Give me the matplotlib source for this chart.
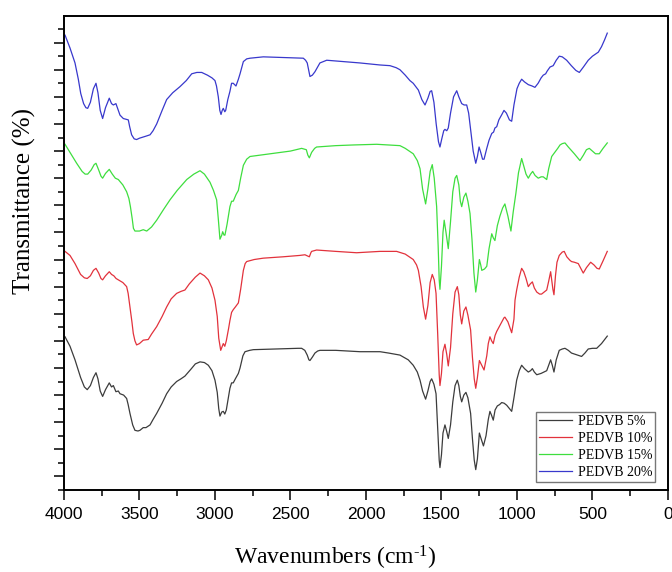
import numpy as np
import matplotlib
matplotlib.use("Agg")
import matplotlib.pyplot as plt
from matplotlib.ticker import MultipleLocator, FixedLocator, NullFormatter

plt.rcParams['mathtext.fontset'] = 'custom'
plt.rcParams['mathtext.rm'] = 'Liberation Serif'
plt.rcParams['mathtext.it'] = 'Liberation Serif:italic'

##################### spectra ##################################################
wn_5 = [3993, 3960, 3927, 3890, 3865, 3846, 3825, 3805, 3788, 3775, 3760, 3744, 3725, 3700, 3685, 3673,
        3656, 3640, 3629, 3605, 3585, 3575, 3563, 3545, 3530, 3510, 3497, 3475, 3457, 3430, 3410, 3386,
        3350, 3320, 3290, 3254, 3225, 3199, 3160, 3130, 3099, 3070, 3044, 3020, 3000, 2985, 2975, 2967,
        2955, 2945, 2935, 2925, 2910, 2901, 2890, 2879, 2865, 2845, 2834, 2815, 2801, 2770, 2746, 2600,
        2450, 2426, 2405, 2389, 2378, 2371, 2355, 2338, 2320, 2305, 2200, 2040, 1907, 1850, 1775, 1720,
        1687, 1660, 1642, 1625, 1605, 1590, 1575, 1565, 1550, 1536, 1525, 1515, 1510, 1500, 1490, 1477,
        1465, 1455, 1440, 1425, 1410, 1395, 1385, 1375, 1366, 1352, 1338, 1325, 1307, 1295, 1283, 1273,
        1262, 1249, 1238, 1222, 1205, 1190, 1179, 1168, 1157, 1145, 1130, 1115, 1101, 1085, 1068, 1050,
        1035, 1020, 1002, 985, 969, 950, 925, 910, 898, 885, 869, 840, 803, 790, 777, 766,
        755, 740, 720, 700, 682, 660, 639, 600, 572, 550, 528, 500, 472, 440, 402]
t_5 = [11.3, 10.6, 9.6, 8.3, 7.6, 7.4, 7.7, 8.3, 8.65, 8.2, 7.3, 6.9, 7.4, 7.9, 7.6, 7.7,
       7.25, 7.3, 7.1, 7.0, 6.75, 6.3, 5.65, 4.8, 4.4, 4.35, 4.4, 4.6, 4.6, 4.8, 5.2, 5.65,
       6.4, 7.1, 7.6, 8.0, 8.2, 8.4, 8.9, 9.3, 9.45, 9.4, 9.2, 8.8, 8.1, 7.2, 6.0, 5.45,
       5.75, 5.8, 5.6, 5.9, 6.9, 7.5, 7.9, 7.9, 8.2, 8.6, 9.0, 9.9, 10.2, 10.3, 10.35, 10.4,
       10.45, 10.45, 10.3, 9.95, 9.6, 9.55, 9.8, 10.1, 10.25, 10.3, 10.3, 10.2, 10.2, 10.1, 9.95, 9.6,
       9.2, 8.7, 8.1, 7.3, 6.7, 7.3, 8.0, 8.2, 7.8, 7.1, 4.5, 2.2, 1.65, 2.6, 4.2, 4.8,
       4.3, 3.8, 4.8, 6.5, 7.7, 8.1, 7.7, 6.9, 6.5, 7.0, 7.2, 6.8, 5.65, 3.8, 2.2, 1.5,
       2.3, 4.2, 3.8, 3.25, 4.0, 5.2, 5.8, 5.5, 5.15, 5.9, 6.2, 6.3, 6.45, 6.4, 6.25, 6.0,
       5.8, 6.8, 8.1, 8.8, 9.2, 8.95, 8.7, 8.8, 8.95, 8.7, 8.5, 8.6, 8.8, 9.2, 9.6, 9.2,
       8.7, 9.6, 10.3, 10.4, 10.45, 10.3, 10.1, 9.95, 9.85, 10.1, 10.4, 10.45, 10.45, 10.8, 11.35]

wn_10 = [3993, 3960, 3927, 3890, 3865, 3846, 3825, 3805, 3788, 3770, 3755, 3744, 3725, 3700, 3685, 3670,
         3655, 3640, 3610, 3585, 3575, 3563, 3550, 3541, 3530, 3519, 3500, 3475, 3442, 3420, 3386, 3350,
         3320, 3290, 3254, 3225, 3199, 3170, 3130, 3099, 3070, 3044, 3020, 3000, 2985, 2975, 2962, 2952,
         2945, 2935, 2925, 2910, 2901, 2890, 2879, 2865, 2845, 2830, 2812, 2800, 2790, 2740, 2680, 2550,
         2440, 2404, 2385, 2375, 2365, 2360, 2327, 2200, 2062, 1907, 1797, 1740, 1687, 1665, 1653, 1635,
         1620, 1605, 1590, 1575, 1561, 1548, 1536, 1525, 1515, 1510, 1500, 1490, 1477, 1465, 1455, 1440,
         1425, 1410, 1395, 1385, 1375, 1366, 1352, 1338, 1325, 1307, 1295, 1283, 1273, 1262, 1249, 1238,
         1218, 1200, 1190, 1179, 1168, 1157, 1145, 1134, 1110, 1086, 1080, 1060, 1035, 1020, 1013, 1002,
         985, 969, 955, 940, 925, 912, 898, 885, 869, 850, 837, 820, 803, 790, 777, 770,
         762, 755, 745, 735, 720, 700, 687, 670, 650, 639, 620, 594, 575, 561, 540, 512,
         490, 470, 455, 430, 402]
t_10 = [17.6, 17.3, 16.7, 15.9, 15.65, 15.6, 15.8, 16.2, 16.35, 16.0, 15.6, 15.5, 15.8, 16.1, 15.9, 15.8,
        15.6, 15.5, 15.3, 15.0, 14.5, 13.5, 12.4, 11.55, 11.0, 10.7, 10.8, 11.05, 11.1, 11.5, 12.05, 12.8,
        13.5, 14.1, 14.5, 14.65, 14.75, 15.2, 15.7, 16.0, 15.8, 15.5, 14.9, 14.0, 12.8, 11.2, 10.3, 10.6,
        10.8, 10.6, 11.0, 11.9, 12.5, 13.1, 13.3, 13.5, 13.8, 14.8, 16.2, 16.7, 16.85, 17.0, 17.1, 17.2,
        17.3, 17.35, 17.25, 17.2, 17.5, 17.6, 17.7, 17.6, 17.5, 17.6, 17.6, 17.4, 17.0, 16.6, 16.2, 15.0,
        13.5, 12.6, 13.6, 15.3, 15.9, 15.5, 14.5, 11.5, 8.5, 7.7, 8.6, 10.2, 10.75, 10.0, 9.15, 10.5,
        13.0, 14.6, 15.0, 14.4, 12.9, 12.25, 13.2, 13.5, 12.9, 11.8, 9.8, 8.2, 7.5, 8.3, 9.55, 9.3,
        8.85, 9.9, 10.8, 11.3, 11.0, 10.8, 11.4, 11.7, 12.2, 12.7, 12.75, 12.4, 11.6, 12.6, 14.0, 14.75,
        15.7, 16.35, 16.1, 15.6, 15.0, 15.2, 15.35, 14.9, 14.6, 14.45, 14.45, 14.6, 14.75, 15.4, 16.1, 15.5,
        14.8, 14.4, 15.8, 16.8, 17.3, 17.55, 17.6, 17.2, 16.95, 16.85, 16.8, 16.7, 16.3, 16.0, 16.4, 16.8,
        16.6, 16.35, 16.3, 16.9, 17.6]

wn_15 = [3993, 3960, 3916, 3880, 3860, 3843, 3820, 3800, 3788, 3770, 3755, 3744, 3725, 3700, 3680, 3660,
         3640, 3610, 3585, 3570, 3560, 3548, 3540, 3530, 3500, 3475, 3452, 3420, 3386, 3340, 3298, 3250,
         3187, 3140, 3099, 3070, 3033, 3010, 2989, 2978, 2967, 2955, 2949, 2940, 2934, 2920, 2901, 2890,
         2879, 2860, 2845, 2830, 2812, 2790, 2768, 2700, 2636, 2500, 2426, 2395, 2385, 2375, 2360, 2340,
         2327, 2200, 2084, 1929, 1850, 1775, 1740, 1687, 1660, 1642, 1625, 1605, 1590, 1575, 1561, 1548,
         1532, 1522, 1515, 1510, 1500, 1490, 1482, 1470, 1455, 1440, 1425, 1410, 1399, 1385, 1375, 1366,
         1352, 1338, 1325, 1311, 1298, 1285, 1273, 1262, 1249, 1240, 1233, 1215, 1200, 1185, 1167, 1157,
         1146, 1130, 1113, 1095, 1080, 1060, 1040, 1025, 1007, 990, 969, 955, 940, 925, 910, 896,
         880, 859, 840, 826, 803, 790, 770, 750, 730, 715, 700, 682, 660, 620, 583, 560,
         540, 521, 500, 480, 455, 430, 402]
t_15 = [25.5, 24.9, 24.1, 23.5, 23.3, 23.3, 23.6, 24.0, 24.1, 23.6, 23.15, 23.0, 23.35, 23.65, 23.3, 23.0,
        22.9, 22.5, 22.0, 21.5, 20.9, 20.0, 19.3, 19.1, 19.1, 19.2, 19.1, 19.4, 19.9, 20.7, 21.4, 22.1,
        22.9, 23.3, 23.55, 23.3, 22.7, 22.1, 21.4, 20.0, 18.5, 18.8, 19.05, 18.8, 18.8, 19.6, 20.9, 21.3,
        21.3, 21.8, 22.1, 23.0, 23.95, 24.4, 24.6, 24.7, 24.8, 25.0, 25.2, 25.1, 24.7, 24.5, 24.9, 25.2,
        25.3, 25.4, 25.45, 25.5, 25.45, 25.4, 25.2, 24.8, 24.3, 23.7, 22.2, 21.1, 22.2, 23.5, 24.0, 23.0,
        20.9, 18.0, 15.5, 14.8, 16.5, 19.0, 19.9, 19.0, 17.8, 19.8, 22.0, 23.0, 23.2, 22.5, 21.3, 20.9,
        21.6, 21.9, 21.3, 20.4, 18.5, 16.0, 14.6, 15.5, 17.0, 16.6, 16.2, 16.3, 16.5, 17.8, 18.9, 18.6,
        18.4, 19.5, 20.2, 20.8, 21.1, 20.2, 19.1, 20.5, 21.9, 23.4, 24.45, 23.9, 23.3, 23.0, 23.3, 23.5,
        23.2, 23.0, 23.1, 23.1, 22.9, 23.7, 24.6, 24.9, 25.2, 25.45, 25.55, 25.6, 25.3, 24.8, 24.3, 24.7,
        25.1, 25.2, 25.0, 24.8, 24.8, 25.2, 25.6]

wn_20 = [3993, 3960, 3927, 3905, 3889, 3870, 3855, 3843, 3825, 3805, 3788, 3775, 3760, 3744, 3725, 3700,
         3685, 3673, 3656, 3640, 3629, 3607, 3574, 3565, 3552, 3535, 3519, 3500, 3485, 3457, 3430, 3410,
         3386, 3350, 3320, 3280, 3232, 3190, 3154, 3120, 3088, 3050, 3020, 3000, 2990, 2978, 2968, 2960,
         2952, 2945, 2935, 2929, 2915, 2901, 2890, 2879, 2861, 2845, 2834, 2812, 2790, 2768, 2680, 2550,
         2415, 2400, 2389, 2380, 2371, 2355, 2338, 2320, 2305, 2260, 2150, 2040, 1907, 1841, 1800, 1775,
         1740, 1709, 1687, 1653, 1630, 1609, 1590, 1575, 1565, 1550, 1535, 1520, 1510, 1498, 1485, 1477,
         1465, 1455, 1440, 1420, 1399, 1385, 1366, 1350, 1333, 1320, 1305, 1290, 1273, 1262, 1251, 1240,
         1228, 1218, 1200, 1185, 1167, 1155, 1146, 1134, 1120, 1100, 1086, 1070, 1050, 1035, 1020, 1000,
         985, 969, 950, 925, 900, 881, 860, 840, 826, 810, 800, 781, 760, 740, 720, 700,
         671, 640, 610, 587, 560, 528, 500, 461, 440, 420, 402]
t_20 = [33.55, 32.6, 31.5, 30.3, 29.25, 28.5, 28.2, 28.15, 28.6, 29.6, 30.0, 29.3, 28.0, 27.4, 28.2, 28.9,
        28.5, 28.4, 28.5, 28.0, 27.65, 27.4, 27.3, 26.8, 26.2, 25.9, 25.85, 25.95, 26.0, 26.1, 26.2, 26.5,
        27.0, 28.0, 28.8, 29.3, 29.75, 30.2, 30.7, 30.8, 30.8, 30.6, 30.4, 30.2, 29.8, 29.0, 28.0, 27.7,
        28.0, 28.15, 27.9, 28.0, 28.8, 29.4, 30.0, 30.0, 29.8, 30.3, 30.7, 31.6, 31.8, 31.85, 31.95, 31.9,
        31.85, 31.7, 31.5, 31.0, 30.5, 30.6, 30.85, 31.2, 31.5, 31.7, 31.6, 31.5, 31.35, 31.3, 31.15, 31.0,
        30.6, 30.2, 30.0, 29.5, 28.8, 28.4, 28.9, 29.4, 29.45, 28.6, 27.0, 25.7, 25.3, 25.9, 26.5, 26.6,
        26.5, 26.7, 27.8, 29.0, 29.45, 29.0, 28.5, 28.4, 28.4, 27.8, 26.4, 25.0, 24.1, 24.6, 25.3, 24.9,
        24.4, 24.4, 25.2, 25.8, 26.3, 26.4, 26.7, 26.8, 27.3, 27.7, 28.0, 27.8, 27.3, 27.2, 28.4, 29.6,
        30.0, 30.3, 30.1, 29.9, 29.8, 29.7, 30.0, 30.4, 30.6, 30.7, 30.9, 31.2, 31.3, 31.7, 32.0, 31.95,
        31.7, 31.3, 30.95, 30.8, 31.2, 31.7, 32.0, 32.3, 32.7, 33.2, 33.7]

labels = ['PEDVB 5%', 'PEDVB 10%', 'PEDVB 15%', 'PEDVB 20%']
colors = ['#3c3c3c', '#e2323c', '#3ede3e', '#3838cc']

##################### plot #####################################################
fig = plt.figure(figsize=(6.72, 5.72), dpi=100)
ax = fig.add_axes([0.0952, 0.1434, 0.8988, 0.8295])

for wn, t, lab, c in zip([wn_5, wn_10, wn_15, wn_20], [t_5, t_10, t_15, t_20], labels, colors):
    ax.plot(wn, t, color=c, lw=0.9, label=lab)

ax.set_xlim(4000, 0)
ax.set_ylim(0, 35)
ax.xaxis.set_major_locator(MultipleLocator(500))
ax.xaxis.set_minor_locator(MultipleLocator(250))
ax.yaxis.set_major_locator(FixedLocator(np.arange(1, 34, 2)))
ax.yaxis.set_minor_locator(FixedLocator(np.arange(0, 35.1, 2)))
ax.yaxis.set_major_formatter(NullFormatter())
ax.tick_params(which='major', direction='out', length=7.5, width=1.1, top=False, right=False)
ax.tick_params(which='minor', direction='out', length=4, width=1.1, top=False, right=False)
ax.tick_params(axis='x', labelsize=12.5, pad=5)
for lab in ax.get_xticklabels():
    lab.set_fontfamily('Liberation Sans')
for s in ax.spines.values():
    s.set_linewidth(1.4)

# axis titles placed where the reference has them (y title sits above centre)
fig.text(335.5 / 672, 1 - 557.5 / 572, 'Wavenumbers (cm$^{\\text{-1}}$)', fontsize=17,
         fontfamily='Liberation Serif', ha='center', va='center')
fig.text(24 / 672, 1 - 201.5 / 572, 'Transmittance (%)', fontsize=18, rotation=90,
         fontfamily='Liberation Serif', ha='center', va='center')

leg = ax.legend(loc='lower right', bbox_to_anchor=(0.9785, 0.017), borderaxespad=0,
                prop={'family': 'Liberation Serif', 'size': 10}, fancybox=False,
                handlelength=2.4, labelspacing=0.3, borderpad=0.2, handletextpad=0.4)
leg.get_frame().set_edgecolor('#555555')
leg.get_frame().set_linewidth(1.0)

fig.savefig('out.png', dpi=100)
